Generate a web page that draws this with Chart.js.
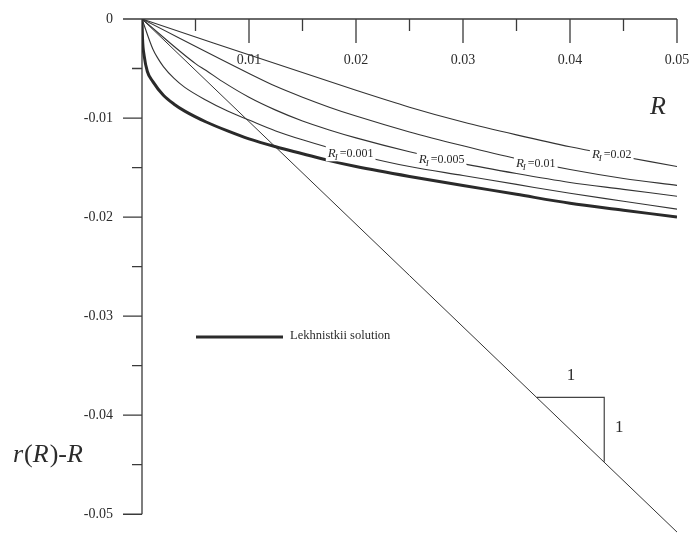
<!DOCTYPE html>
<html>
<head>
<meta charset="utf-8">
<script src="https://cdn.jsdelivr.net/npm/chart.js@4/dist/chart.umd.min.js"></script>
<style>
  html, body { margin: 0; background: #fff; }
</style>
</head>
<body>
<canvas id="myChart" width="692" height="540"></canvas>
<script>
// Lekhnitskii solution (thick curve)
var lekhR = [0, 0.00005, 0.0002, 0.0005, 0.001, 0.002, 0.003, 0.004, 0.006, 0.008, 0.01, 0.0125, 0.015, 0.0175, 0.02, 0.025, 0.03, 0.035, 0.04, 0.045, 0.05];
var lekhV = [0, -0.0020, -0.0037, -0.0053, -0.0063, -0.0077, -0.0086, -0.0093, -0.0104, -0.0113, -0.0121, -0.0129, -0.0136, -0.0143, -0.0149, -0.0159, -0.0168, -0.0177, -0.0186, -0.0193, -0.0200];

// curves for the different inner radii
var r001R = [0, 0.001, 0.0015, 0.002, 0.003, 0.004, 0.006, 0.008, 0.01, 0.0125, 0.015, 0.0175, 0.02, 0.025, 0.03, 0.035, 0.04, 0.045, 0.05];
var r001V = [0, -0.0030, -0.0040, -0.0048, -0.0060, -0.0069, -0.0082, -0.0093, -0.0102, -0.0113, -0.0122, -0.0130, -0.0137, -0.0149, -0.0158, -0.0167, -0.0176, -0.0184, -0.0192];

var r005R = [0, 0.005, 0.006, 0.0075, 0.01, 0.0125, 0.015, 0.0175, 0.02, 0.025, 0.03, 0.035, 0.04, 0.045, 0.05];
var r005V = [0, -0.0045, -0.0052, -0.0063, -0.0079, -0.0092, -0.0103, -0.0112, -0.0120, -0.0134, -0.0146, -0.0156, -0.0165, -0.0172, -0.0179];

var r01R = [0, 0.01, 0.0125, 0.015, 0.0175, 0.02, 0.025, 0.03, 0.035, 0.04, 0.045, 0.05];
var r01V = [0, -0.0055, -0.0068, -0.0079, -0.0089, -0.0098, -0.0114, -0.0128, -0.0141, -0.0152, -0.0161, -0.0168];

var r02R = [0, 0.02, 0.025, 0.03, 0.035, 0.04, 0.045, 0.05];
var r02V = [0, -0.0072, -0.0089, -0.0104, -0.0117, -0.0129, -0.0139, -0.0149];

// unit slope reference line and its triangle
var slopeR = [0, 0.05];
var slopeV = [0, -0.0518];
var triR = [0.0369, 0.0432, 0.0432];
var triV = [-0.0382, -0.0382, -0.0447];

// curve labels: inner radius text and where along R it sits
var curveNames = ['0.001', '0.005', '0.01', '0.02'];
var curveLabelR = [0.0195, 0.028, 0.0368, 0.0439];

// axis ticks
var xTicks = [0.01, 0.02, 0.03, 0.04, 0.05];
var xTickLabels = ['0.01', '0.02', '0.03', '0.04', '0.05'];
var xMinor = [0.005, 0.015, 0.025, 0.035, 0.045];
var yTicks = [0, -0.01, -0.02, -0.03, -0.04, -0.05];
var yTickLabels = ['0', '-0.01', '-0.02', '-0.03', '-0.04', '-0.05'];
var yMinor = [-0.005, -0.015, -0.025, -0.035, -0.045];

var SERIF = '"Liberation Serif", "DejaVu Serif", serif';
var INK = '#2b2b2b';

function pts(xs, ys) {
    return xs.map(function (x, i) { return { x: x, y: ys[i] }; });
}

function lerpAt(xs, ys, x) {
    for (var i = 1; i < xs.length; i++) {
        if (x <= xs[i]) {
            var t = (x - xs[i - 1]) / (xs[i] - xs[i - 1]);
            return ys[i - 1] + t * (ys[i] - ys[i - 1]);
        }
    }
    return ys[ys.length - 1];
}

var curveSets = [[r001R, r001V], [r005R, r005V], [r01R, r01V], [r02R, r02V]];

var axesPlugin = {
    id: 'paperAxes',
    beforeDatasetsDraw: function (chart) {
        var ctx = chart.ctx, xs = chart.scales.x, ys = chart.scales.y;
        var x0 = xs.getPixelForValue(0), y0 = ys.getPixelForValue(0);
        var xEnd = xs.getPixelForValue(0.05), yEnd = ys.getPixelForValue(-0.05);
        ctx.save();
        ctx.strokeStyle = '#3a3a3a';
        ctx.lineWidth = 1.3;
        ctx.beginPath();
        ctx.moveTo(x0, y0); ctx.lineTo(xEnd, y0);
        ctx.moveTo(x0, y0); ctx.lineTo(x0, yEnd);
        xTicks.forEach(function (v) {
            var p = xs.getPixelForValue(v);
            ctx.moveTo(p, y0); ctx.lineTo(p, y0 + 24);
        });
        xMinor.forEach(function (v) {
            var p = xs.getPixelForValue(v);
            ctx.moveTo(p, y0); ctx.lineTo(p, y0 + 12);
        });
        yTicks.forEach(function (v) {
            var p = ys.getPixelForValue(v);
            ctx.moveTo(x0, p); ctx.lineTo(x0 - 19, p);
        });
        yMinor.forEach(function (v) {
            var p = ys.getPixelForValue(v);
            ctx.moveTo(x0, p); ctx.lineTo(x0 - 10, p);
        });
        ctx.stroke();

        ctx.fillStyle = INK;
        ctx.font = '14px ' + SERIF;
        ctx.textBaseline = 'middle';
        ctx.textAlign = 'center';
        xTicks.forEach(function (v, i) {
            ctx.fillText(xTickLabels[i], xs.getPixelForValue(v), y0 + 41);
        });
        ctx.textAlign = 'right';
        yTicks.forEach(function (v, i) {
            ctx.fillText(yTickLabels[i], x0 - 29, ys.getPixelForValue(v));
        });
        ctx.restore();
    },
    afterDatasetsDraw: function (chart) {
        var ctx = chart.ctx, xs = chart.scales.x, ys = chart.scales.y;
        ctx.save();
        ctx.textBaseline = 'alphabetic';
        ctx.textAlign = 'left';

        // labels sitting on the thin curves, masking the line behind them
        curveSets.forEach(function (c, i) {
            var px = xs.getPixelForValue(curveLabelR[i]);
            var py = ys.getPixelForValue(lerpAt(c[0], c[1], curveLabelR[i]));
            ctx.font = 'italic 13px ' + SERIF;
            var wR = ctx.measureText('R').width;
            ctx.font = 'italic 9px ' + SERIF;
            var wS = ctx.measureText('I').width + 1;
            ctx.font = '12px ' + SERIF;
            var wT = ctx.measureText('=' + curveNames[i]).width;
            var w = wR + wS + wT;
            var left = px - w / 2;
            ctx.fillStyle = '#fff';
            ctx.fillRect(left - 2, py - 9, w + 4, 17);
            ctx.fillStyle = INK;
            ctx.font = 'italic 13px ' + SERIF;
            ctx.fillText('R', left, py + 4);
            ctx.font = 'italic 9px ' + SERIF;
            ctx.fillText('I', left + wR - 1, py + 7);
            ctx.font = '12px ' + SERIF;
            ctx.fillText('=' + curveNames[i], left + wR + wS, py + 4);
        });

        // slope triangle labels
        ctx.font = '17px ' + SERIF;
        ctx.textAlign = 'center';
        ctx.textBaseline = 'middle';
        ctx.fillText('1', xs.getPixelForValue(0.0401), ys.getPixelForValue(-0.0360));
        ctx.fillText('1', xs.getPixelForValue(0.0446), ys.getPixelForValue(-0.0412));

        // legend
        ctx.strokeStyle = INK;
        ctx.lineWidth = 3;
        ctx.beginPath();
        ctx.moveTo(196, 337); ctx.lineTo(283, 337);
        ctx.stroke();
        ctx.font = '12.5px ' + SERIF;
        ctx.textAlign = 'left';
        ctx.fillText('Lekhnistkii solution', 290, 336);

        // axis titles
        ctx.textBaseline = 'alphabetic';
        ctx.font = 'italic 26px ' + SERIF;
        ctx.textAlign = 'center';
        ctx.fillText('R', 658, 114);

        var parts = [['r', true], ['(', false], ['R', true], [')', false], ['-', false], ['R', true]];
        var tx = 13;
        ctx.textAlign = 'left';
        parts.forEach(function (p) {
            ctx.font = (p[1] ? 'italic ' : '') + '26px ' + SERIF;
            ctx.fillText(p[0], tx, 462);
            tx += ctx.measureText(p[0]).width + (p[1] ? 1 : 0);
        });
        ctx.restore();
    }
};

var thin = { borderColor: '#333', borderWidth: 1.1, pointRadius: 0, fill: false, cubicInterpolationMode: 'monotone' };

var myChart = new Chart(document.getElementById('myChart'), {
    type: 'line',
    data: {
        datasets: [
            Object.assign({ label: 'R_I=0.02', data: pts(r02R, r02V) }, thin),
            Object.assign({ label: 'R_I=0.01', data: pts(r01R, r01V) }, thin),
            Object.assign({ label: 'R_I=0.005', data: pts(r005R, r005V) }, thin),
            Object.assign({ label: 'R_I=0.001', data: pts(r001R, r001V) }, thin),
            {
                label: 'Lekhnistkii solution',
                data: pts(lekhR, lekhV),
                borderColor: '#2a2a2a',
                borderWidth: 3,
                pointRadius: 0,
                fill: false,
                cubicInterpolationMode: 'monotone'
            },
            {
                label: 'slope',
                data: pts(slopeR, slopeV),
                borderColor: '#333',
                borderWidth: 1,
                pointRadius: 0,
                fill: false
            },
            {
                label: 'triangle',
                data: pts(triR, triV),
                borderColor: '#444',
                borderWidth: 1.2,
                pointRadius: 0,
                fill: false,
                tension: 0
            }
        ]
    },
    options: {
        responsive: false,
        animation: false,
        layout: { padding: { left: 142, right: 15, top: 19, bottom: 1 } },
        scales: {
            x: { type: 'linear', min: 0, max: 0.05, display: false },
            y: { type: 'linear', min: -0.0525, max: 0, display: false }
        },
        plugins: {
            legend: { display: false },
            tooltip: { enabled: false }
        }
    },
    plugins: [axesPlugin]
});
</script>
</body>
</html>
